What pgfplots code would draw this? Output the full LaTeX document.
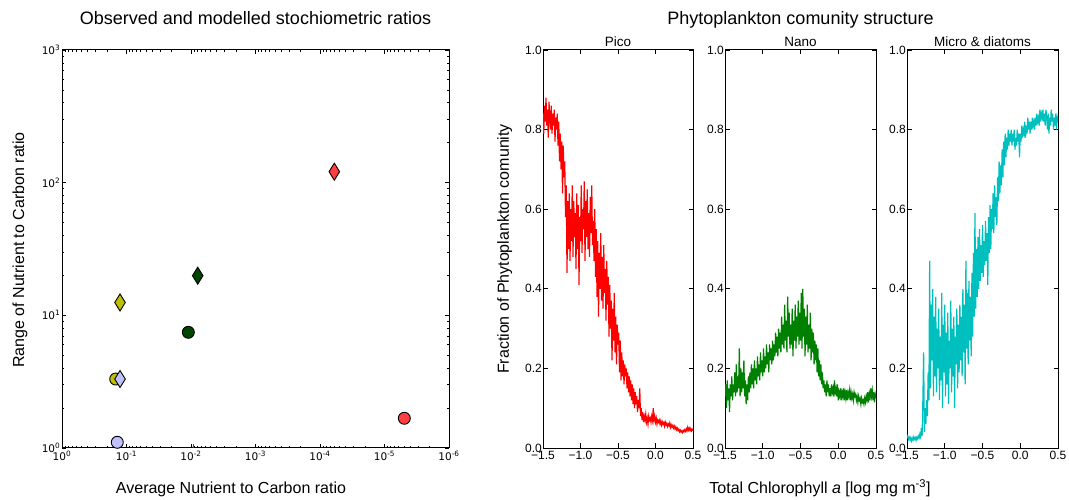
\documentclass[border=0pt]{standalone}
\usepackage{fontspec}
\setmainfont{Liberation Sans}
\newfontfamily\vera{DejaVu Sans}
\usepackage{pgfplots}
\pgfplotsset{compat=1.18}

\definecolor{lav}{RGB}{192,192,255}
\definecolor{olive}{RGB}{191,191,0}
\definecolor{dgreen}{RGB}{0,70,0}
\definecolor{lred}{RGB}{255,64,64}
\definecolor{mgreen}{RGB}{0,128,0}
\definecolor{mcyan}{RGB}{0,191,191}

\pgfplotsset{
  ref/.style={
    scale only axis,
    axis line style={line width=1bp},
    tick style={black, line width=0.7bp},
    major tick length=4.5bp,
    minor tick length=2.5bp,
    /pgf/number format/assume math mode=true,
  },
  panel/.style={
    ref, anchor=south west, width=151bp, height=398bp,
    tick label style={font=\fontsize{12bp}{13bp}\selectfont},
    yticklabel style={inner xsep=1bp},
    xmin=-1.5, xmax=0.5, ymin=0, ymax=1,
    xtick={-1.5,-1,-0.5,0,0.5},
    xticklabels={−1.5,−1.0,−0.5,0.0,0.5},
    ytick={0,0.2,0.4,0.6,0.8,1},
    yticklabels={0.0,0.2,0.4,0.6,0.8,1.0},
  },
  mk/.style={only marks, mark size=6bp, mark options={fill=#1, draw=black, line width=0.9bp}},
  dm/.style={only marks, mark=diamond*, mark size=8.5bp, mark options={xscale=0.83, fill=#1, draw=black, line width=0.9bp}},
}

\begin{document}
\begin{tikzpicture}
\path[use as bounding box] (0,0) rectangle (1069bp,500bp);

% left: stoichiometric ratios
\begin{axis}[ref, at={(62bp,52bp)}, anchor=south west, width=387bp, height=398bp,
  tick label style={font=\vera\fontsize{10.5bp}{12bp}\selectfont},
  yticklabel style={inner xsep=1.5bp},
  xmode=log, ymode=log, x dir=reverse,
  xmin=1e-6, xmax=1, ymin=1, ymax=1000,
  xtick={1,0.1,0.01,0.001,0.0001,0.00001,0.000001},
  xticklabels={10\textsuperscript{0},10\textsuperscript{-1},10\textsuperscript{-2},10\textsuperscript{-3},10\textsuperscript{-4},10\textsuperscript{-5},10\textsuperscript{-6}},
  minor xtick={0.2,0.3,0.4,0.5,0.6,0.7,0.8,0.9,
    0.02,0.03,0.04,0.05,0.06,0.07,0.08,0.09,
    0.002,0.003,0.004,0.005,0.006,0.007,0.008,0.009,
    0.0002,0.0003,0.0004,0.0005,0.0006,0.0007,0.0008,0.0009,
    0.00002,0.00003,0.00004,0.00005,0.00006,0.00007,0.00008,0.00009,
    0.000002,0.000003,0.000004,0.000005,0.000006,0.000007,0.000008,0.000009},
  ytick={1,10,100,1000},
  yticklabels={10\textsuperscript{0},10\textsuperscript{1},10\textsuperscript{2},10\textsuperscript{3}},
  minor ytick={2,3,4,5,6,7,8,9,20,30,40,50,60,70,80,90,200,300,400,500,600,700,800,900},
  clip=false,
]
\addplot[mk=olive] coordinates {(0.147,3.31)};
\addplot[mk=lav] coordinates {(0.139,1.104)};
\addplot[mk=dgreen] coordinates {(0.0110,7.45)};
\addplot[mk=lred] coordinates {(4.93e-6,1.675)};
\addplot[dm=olive] coordinates {(0.126,12.5)};
\addplot[dm=lav] coordinates {(0.126,3.31)};
\addplot[dm=dgreen] coordinates {(0.00787,19.9)};
\addplot[dm=lred] coordinates {(6.0e-5,121)};
\addplot[olive, line width=1bp] coordinates {(0.139,1) (0.139,1.05)};
\addplot[mgreen, line width=1bp] coordinates {(0.0092,1) (0.0092,1.08)};
\end{axis}

% right: community structure
\begin{axis}[panel, at={(543bp,52bp)}, width=150bp]
\addplot[red, line width=1.2bp] coordinates {
(-1.50,0.84) (-1.49,0.79) (-1.48,0.86) (-1.47,0.82) (-1.46,0.88) (-1.45,0.81) (-1.44,0.85) (-1.43,0.78) (-1.42,0.87) (-1.41,0.83)
(-1.40,0.80) (-1.39,0.86) (-1.38,0.79) (-1.37,0.84) (-1.36,0.81) (-1.35,0.85) (-1.34,0.77) (-1.33,0.83) (-1.32,0.80) (-1.31,0.84)
(-1.30,0.76) (-1.29,0.82) (-1.28,0.72) (-1.27,0.79) (-1.26,0.70) (-1.25,0.77) (-1.24,0.64) (-1.23,0.76) (-1.22,0.68) (-1.21,0.72)
(-1.20,0.58) (-1.19,0.66) (-1.18,0.44) (-1.17,0.62) (-1.16,0.50) (-1.15,0.64) (-1.14,0.47) (-1.13,0.60) (-1.12,0.52) (-1.11,0.66)
(-1.10,0.48) (-1.09,0.62) (-1.08,0.53) (-1.07,0.59) (-1.06,0.45) (-1.05,0.64) (-1.04,0.50) (-1.03,0.61) (-1.02,0.41) (-1.01,0.58)
(-1.00,0.52) (-0.99,0.66) (-0.98,0.49) (-0.97,0.60) (-0.96,0.55) (-0.95,0.67) (-0.94,0.47) (-0.93,0.62) (-0.92,0.53) (-0.91,0.65)
(-0.90,0.50) (-0.89,0.59) (-0.88,0.48) (-0.87,0.63) (-0.86,0.54) (-0.85,0.66) (-0.84,0.51) (-0.83,0.57) (-0.82,0.47) (-0.81,0.60)
(-0.80,0.43) (-0.79,0.55) (-0.78,0.38) (-0.77,0.52) (-0.76,0.33) (-0.75,0.49) (-0.74,0.40) (-0.73,0.54) (-0.72,0.37) (-0.71,0.48)
(-0.70,0.35) (-0.69,0.51) (-0.68,0.39) (-0.67,0.45) (-0.66,0.32) (-0.65,0.47) (-0.64,0.36) (-0.63,0.43) (-0.62,0.28) (-0.61,0.41)
(-0.60,0.30) (-0.59,0.37) (-0.58,0.22) (-0.57,0.35) (-0.56,0.27) (-0.55,0.39) (-0.54,0.24) (-0.53,0.33) (-0.52,0.21) (-0.51,0.31)
(-0.50,0.26) (-0.49,0.29) (-0.48,0.19) (-0.47,0.27) (-0.46,0.17) (-0.45,0.24) (-0.44,0.18) (-0.43,0.22) (-0.42,0.16) (-0.41,0.21)
(-0.40,0.18) (-0.39,0.20) (-0.38,0.15) (-0.37,0.19) (-0.36,0.14) (-0.35,0.18) (-0.34,0.13) (-0.33,0.17) (-0.32,0.12) (-0.31,0.16)
(-0.30,0.11) (-0.29,0.15) (-0.28,0.10) (-0.27,0.14) (-0.26,0.11) (-0.25,0.13) (-0.24,0.09) (-0.23,0.12) (-0.22,0.10) (-0.21,0.15)
(-0.20,0.08) (-0.19,0.10) (-0.18,0.07) (-0.17,0.09) (-0.16,0.065) (-0.15,0.08) (-0.14,0.07) (-0.13,0.085) (-0.12,0.065) (-0.11,0.075)
(-0.10,0.06) (-0.09,0.08) (-0.08,0.07) (-0.07,0.075) (-0.06,0.065) (-0.05,0.08) (-0.04,0.07) (-0.03,0.10) (-0.02,0.07) (-0.01,0.08)
(0.00,0.065) (0.01,0.075) (0.02,0.06) (0.03,0.07) (0.04,0.065) (0.05,0.07) (0.06,0.06) (0.07,0.068) (0.08,0.058) (0.09,0.066)
(0.10,0.06) (0.11,0.064) (0.12,0.055) (0.13,0.065) (0.14,0.058) (0.15,0.062) (0.16,0.054) (0.17,0.06) (0.18,0.056) (0.19,0.063)
(0.20,0.052) (0.21,0.058) (0.22,0.053) (0.23,0.057) (0.24,0.05) (0.25,0.055) (0.26,0.048) (0.27,0.053) (0.28,0.046) (0.29,0.05)
(0.30,0.044) (0.31,0.047) (0.32,0.041) (0.33,0.045) (0.34,0.04) (0.35,0.043) (0.36,0.039) (0.37,0.044) (0.38,0.041) (0.39,0.046)
(0.40,0.042) (0.41,0.048) (0.42,0.043) (0.43,0.052) (0.44,0.045) (0.45,0.05) (0.46,0.044) (0.47,0.049) (0.48,0.043) (0.49,0.047)
(0.50,0.044)
};
\end{axis}

\begin{axis}[panel, at={(725bp,52bp)}]
\addplot[mgreen, line width=1.2bp] coordinates {
(-1.50,0.13) (-1.49,0.16) (-1.48,0.10) (-1.47,0.17) (-1.46,0.12) (-1.45,0.15) (-1.44,0.09) (-1.43,0.16) (-1.42,0.13) (-1.41,0.18)
(-1.40,0.12) (-1.39,0.16) (-1.38,0.14) (-1.37,0.19) (-1.36,0.13) (-1.35,0.21) (-1.34,0.14) (-1.33,0.18) (-1.32,0.15) (-1.31,0.25)
(-1.30,0.13) (-1.29,0.20) (-1.28,0.14) (-1.27,0.19) (-1.26,0.15) (-1.25,0.22) (-1.24,0.13) (-1.23,0.17) (-1.22,0.11) (-1.21,0.16)
(-1.20,0.12) (-1.19,0.18) (-1.18,0.14) (-1.17,0.19) (-1.16,0.15) (-1.15,0.21) (-1.14,0.16) (-1.13,0.20) (-1.12,0.15) (-1.11,0.22)
(-1.10,0.17) (-1.09,0.20) (-1.08,0.16) (-1.07,0.23) (-1.06,0.18) (-1.05,0.21) (-1.04,0.17) (-1.03,0.24) (-1.02,0.19) (-1.01,0.22)
(-1.00,0.18) (-0.99,0.25) (-0.98,0.19) (-0.97,0.23) (-0.96,0.20) (-0.95,0.26) (-0.94,0.21) (-0.93,0.24) (-0.92,0.19) (-0.91,0.26)
(-0.90,0.22) (-0.89,0.25) (-0.88,0.21) (-0.87,0.27) (-0.86,0.22) (-0.85,0.26) (-0.84,0.23) (-0.83,0.29) (-0.82,0.24) (-0.81,0.28)
(-0.80,0.23) (-0.79,0.30) (-0.78,0.25) (-0.77,0.29) (-0.76,0.24) (-0.75,0.33) (-0.74,0.26) (-0.73,0.31) (-0.72,0.25) (-0.71,0.36)
(-0.70,0.27) (-0.69,0.32) (-0.68,0.24) (-0.67,0.38) (-0.66,0.28) (-0.65,0.34) (-0.64,0.25) (-0.63,0.31) (-0.62,0.26) (-0.61,0.35)
(-0.60,0.23) (-0.59,0.32) (-0.58,0.27) (-0.57,0.36) (-0.56,0.25) (-0.55,0.33) (-0.54,0.28) (-0.53,0.37) (-0.52,0.26) (-0.51,0.34)
(-0.50,0.27) (-0.49,0.39) (-0.48,0.25) (-0.47,0.40) (-0.46,0.28) (-0.45,0.35) (-0.44,0.23) (-0.43,0.33) (-0.42,0.26) (-0.41,0.36)
(-0.40,0.24) (-0.39,0.31) (-0.38,0.25) (-0.37,0.34) (-0.36,0.22) (-0.35,0.30) (-0.34,0.24) (-0.33,0.29) (-0.32,0.21) (-0.31,0.27)
(-0.30,0.22) (-0.29,0.26) (-0.28,0.19) (-0.27,0.25) (-0.26,0.18) (-0.25,0.22) (-0.24,0.17) (-0.23,0.21) (-0.22,0.16) (-0.21,0.19)
(-0.20,0.15) (-0.19,0.17) (-0.18,0.14) (-0.17,0.16) (-0.16,0.13) (-0.15,0.17) (-0.14,0.14) (-0.13,0.16) (-0.12,0.13) (-0.11,0.15)
(-0.10,0.13) (-0.09,0.16) (-0.08,0.14) (-0.07,0.15) (-0.06,0.13) (-0.05,0.17) (-0.04,0.14) (-0.03,0.15) (-0.02,0.13) (-0.01,0.16)
(0.00,0.12) (0.01,0.14) (0.02,0.13) (0.03,0.15) (0.04,0.12) (0.05,0.14) (0.06,0.13) (0.07,0.15) (0.08,0.12) (0.09,0.14)
(0.10,0.125) (0.11,0.145) (0.12,0.12) (0.13,0.14) (0.14,0.13) (0.15,0.145) (0.16,0.12) (0.17,0.14) (0.18,0.125) (0.19,0.135)
(0.20,0.12) (0.21,0.14) (0.22,0.13) (0.23,0.135) (0.24,0.12) (0.25,0.13) (0.26,0.115) (0.27,0.13) (0.28,0.12) (0.29,0.125)
(0.30,0.11) (0.31,0.125) (0.32,0.115) (0.33,0.12) (0.34,0.11) (0.35,0.125) (0.36,0.115) (0.37,0.13) (0.38,0.12) (0.39,0.14)
(0.40,0.115) (0.41,0.135) (0.42,0.12) (0.43,0.15) (0.44,0.13) (0.45,0.145) (0.46,0.12) (0.47,0.14) (0.48,0.115) (0.49,0.135)
(0.50,0.125)
};
\end{axis}

\begin{axis}[panel, at={(907bp,52bp)}]
\addplot[mcyan, line width=1.2bp] coordinates {
(-1.50,0.025) (-1.49,0.03) (-1.48,0.022) (-1.47,0.027) (-1.46,0.02) (-1.45,0.026) (-1.44,0.018) (-1.43,0.025) (-1.42,0.02) (-1.41,0.028)
(-1.40,0.022) (-1.39,0.026) (-1.38,0.019) (-1.37,0.027) (-1.36,0.023) (-1.35,0.03) (-1.34,0.025) (-1.33,0.035) (-1.32,0.028) (-1.31,0.05)
(-1.30,0.03) (-1.29,0.12) (-1.28,0.24) (-1.27,0.04) (-1.26,0.10) (-1.25,0.06) (-1.24,0.12) (-1.23,0.08) (-1.22,0.19) (-1.21,0.12)
(-1.20,0.47) (-1.19,0.15) (-1.18,0.36) (-1.17,0.22) (-1.16,0.40) (-1.15,0.13) (-1.14,0.33) (-1.13,0.18) (-1.12,0.38) (-1.11,0.14)
(-1.10,0.30) (-1.09,0.20) (-1.08,0.35) (-1.07,0.12) (-1.06,0.28) (-1.05,0.17) (-1.04,0.39) (-1.03,0.10) (-1.02,0.31) (-1.01,0.19)
(-1.00,0.36) (-0.99,0.13) (-0.98,0.29) (-0.97,0.16) (-0.96,0.34) (-0.95,0.11) (-0.94,0.27) (-0.93,0.20) (-0.92,0.37) (-0.91,0.14)
(-0.90,0.30) (-0.89,0.18) (-0.88,0.33) (-0.87,0.10) (-0.86,0.28) (-0.85,0.21) (-0.84,0.35) (-0.83,0.15) (-0.82,0.31) (-0.81,0.19)
(-0.80,0.36) (-0.79,0.22) (-0.78,0.33) (-0.77,0.18) (-0.76,0.40) (-0.75,0.24) (-0.74,0.36) (-0.73,0.16) (-0.72,0.47) (-0.71,0.25)
(-0.70,0.39) (-0.69,0.21) (-0.68,0.42) (-0.67,0.27) (-0.66,0.38) (-0.65,0.23) (-0.64,0.44) (-0.63,0.28) (-0.62,0.49) (-0.61,0.33)
(-0.60,0.59) (-0.59,0.35) (-0.58,0.50) (-0.57,0.38) (-0.56,0.53) (-0.55,0.40) (-0.54,0.55) (-0.53,0.42) (-0.52,0.51) (-0.51,0.44)
(-0.50,0.56) (-0.49,0.43) (-0.48,0.52) (-0.47,0.46) (-0.46,0.57) (-0.45,0.47) (-0.44,0.54) (-0.43,0.41) (-0.42,0.58) (-0.41,0.49)
(-0.40,0.61) (-0.39,0.50) (-0.38,0.60) (-0.37,0.55) (-0.36,0.64) (-0.35,0.54) (-0.34,0.66) (-0.33,0.58) (-0.32,0.63) (-0.31,0.56)
(-0.30,0.68) (-0.29,0.62) (-0.28,0.72) (-0.27,0.64) (-0.26,0.71) (-0.25,0.66) (-0.24,0.75) (-0.23,0.68) (-0.22,0.77) (-0.21,0.71)
(-0.20,0.79) (-0.19,0.73) (-0.18,0.78) (-0.17,0.75) (-0.16,0.80) (-0.15,0.76) (-0.14,0.79) (-0.13,0.77) (-0.12,0.80) (-0.11,0.76)
(-0.10,0.79) (-0.09,0.77) (-0.08,0.80) (-0.07,0.75) (-0.06,0.78) (-0.05,0.76) (-0.04,0.80) (-0.03,0.77) (-0.02,0.79) (-0.01,0.73)
(0.00,0.79) (0.01,0.77) (0.02,0.81) (0.03,0.78) (0.04,0.80) (0.05,0.79) (0.06,0.82) (0.07,0.78) (0.08,0.81) (0.09,0.79)
(0.10,0.83) (0.11,0.80) (0.12,0.82) (0.13,0.79) (0.14,0.82) (0.15,0.80) (0.16,0.83) (0.17,0.81) (0.18,0.82) (0.19,0.80)
(0.20,0.83) (0.21,0.81) (0.22,0.84) (0.23,0.82) (0.24,0.83) (0.25,0.81) (0.26,0.85) (0.27,0.82) (0.28,0.84) (0.29,0.83)
(0.30,0.85) (0.31,0.82) (0.32,0.84) (0.33,0.81) (0.34,0.85) (0.35,0.83) (0.36,0.80) (0.37,0.84) (0.38,0.79) (0.39,0.83)
(0.40,0.81) (0.41,0.85) (0.42,0.82) (0.43,0.84) (0.44,0.80) (0.45,0.83) (0.46,0.81) (0.47,0.84) (0.48,0.80) (0.49,0.83)
(0.50,0.82)
};
\end{axis}

% titles and labels
\node[anchor=base, font=\fontsize{18bp}{20bp}\selectfont] at (255.5bp,475.2bp) {Observed and modelled stochiometric ratios};
\node[anchor=base, font=\fontsize{18bp}{20bp}\selectfont] at (800.5bp,475.2bp) {Phytoplankton comunity structure};
\node[anchor=base, font=\fontsize{13.5bp}{15bp}\selectfont] at (618bp,453.3bp) {Pico};
\node[anchor=base, font=\fontsize{13.5bp}{15bp}\selectfont] at (800.5bp,453.3bp) {Nano};
\node[anchor=base, font=\fontsize{13.5bp}{15bp}\selectfont] at (982.5bp,453.3bp) {Micro \& diatoms};
\node[anchor=base, rotate=90, font=\fontsize{16bp}{18bp}\selectfont] at (24.2bp,250bp) {Range of Nutrient to Carbon ratio};
\node[anchor=base, rotate=90, font=\fontsize{16bp}{18bp}\selectfont] at (508.8bp,251bp) {Fraction of Phytoplankton comunity};
\node[anchor=base, font=\fontsize{16bp}{18bp}\selectfont] at (231bp,6.7bp) {Average Nutrient to Carbon ratio};
\node[anchor=base, font=\fontsize{16bp}{18bp}\selectfont] at (820bp,6.7bp) {Total Chlorophyll \textit{a} [log mg m\textsuperscript{-3}]};
\end{tikzpicture}
\end{document}
